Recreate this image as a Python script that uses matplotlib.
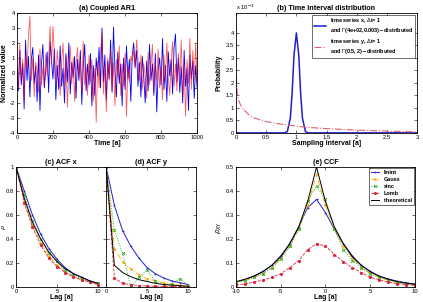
import numpy as np
import matplotlib.pyplot as plt

plt.rcParams['font.family'] = ['Liberation Sans', 'DejaVu Sans']
plt.rcParams['axes.unicode_minus'] = False
plt.rcParams['xtick.direction'] = 'in'
plt.rcParams['ytick.direction'] = 'in'
plt.rcParams['xtick.top'] = True
plt.rcParams['ytick.right'] = True
plt.rcParams['xtick.major.size'] = 2
plt.rcParams['ytick.major.size'] = 2
plt.rcParams['xtick.major.width'] = 0.4
plt.rcParams['ytick.major.width'] = 0.4
plt.rcParams['axes.linewidth'] = 0.6

# (a) coupled AR1 series, sampled every 8 time units
time_a = np.arange(0, 1001, 8)
ar_x = [0.3, -1.2, 1.5, -0.8, 0.6, -2.4, 2.2, -0.5, 1.1, -1.6,
        0.9, 1.7, -0.7, 0.4, -1.9, 1.2, -2.5, 0.6, 1.9, -1.0,
        0.2, 1.4, -1.3, 2.1, 0.8, -0.4, 1.6, -1.8, 0.5, -1.1,
        1.8, -0.9, 0.3, -2.0, 1.3, -0.6, 2.0, -1.4, 0.7, -0.3,
        1.1, -1.7, 0.9, -0.5, 1.5, -2.1, 0.4, 1.9, -1.2, 0.6,
        -0.8, 1.3, -2.2, 0.5, -1.5, 1.0, -0.2, 1.7, -1.0, 3.0,
        -0.6, 1.2, -1.8, 0.8, -0.4, 2.2, -1.3, 3.05, 0.2, -1.6,
        1.4, -0.7, 0.6, -2.2, 1.0, -1.1, 1.8, -0.4, 0.9, -1.9,
        1.2, 2.0, 0.4, 1.5, -0.9, 0.7, -1.6, 1.1, -0.3, -2.0,
        0.8, -1.2, 1.9, -0.5, 0.6, -1.5, 1.3, -2.6, 0.2, 1.0,
        -0.8, 2.3, -1.1, 0.5, -1.9, 1.4, -0.2, 0.9, -1.4, 1.7,
        2.6, -0.6, 1.0, -1.3, 0.4, -2.0, 1.5, -0.9, 0.3, -2.5,
        1.2, -0.4, 0.8, -1.7, 0.5, -1.0]
ar_y = [0.5, -1.0, 1.9, -0.4, 0.9, -1.8, 1.2, 0.2, 2.5, 3.8,
        -0.5, 1.0, -1.6, 0.7, 0.2, -1.3, 1.6, -0.8, 0.4, -0.9,
        1.3, -0.2, 0.9, 3.1, 0.6, 3.1, 1.2, -0.6, 1.5, 0.3,
        -1.5, 0.8, 2.0, -0.9, 1.1, -2.3, 0.5, 1.8, -0.7, 1.0,
        -1.9, 0.6, 1.7, -0.3, 0.9, -1.2, 2.1, -0.8, 0.4, -1.5,
        1.2, -0.6, 0.9, -1.9, 0.3, -3.3, 0.8, -1.0, 1.4, 2.7,
        -1.4, 0.5, -2.6, 1.0, -0.5, 1.6, -1.2, 0.7, -2.2, 0.9,
        -0.3, 1.8, -1.5, 0.6, -0.9, 1.3, -2.9, 0.4, -0.6, 1.1,
        0.8, 1.5, 0.3, 2.2, 0.9, -0.5, 1.2, -1.1, 0.6, -0.2,
        -1.7, 1.4, -0.8, 0.5, 1.9, -1.3, 0.7, -0.5, 1.6, -1.0,
        0.4, -1.8, 1.2, -0.6, 2.0, -0.3, -1.5, 0.8, 2.1, -0.9,
        0.6, -1.2, 1.3, -0.4, 2.2, -1.6, 0.5, -2.9, 0.9, -0.7,
        2.3, -1.1, 1.5, -0.5, 2.0, -0.8]

# (b) sampling interval distributions (x 10^-3)
dt_x = [0, 0.8, 0.85, 0.9, 0.93, 0.96, 1.0, 1.04, 1.07, 1.1, 1.15, 1.2, 3.0]
p_x = [0, 0, 0.05, 0.6, 1.6, 3.1, 4.0, 3.1, 1.6, 0.6, 0.05, 0, 0]
dt_y = [0.005, 0.02, 0.05, 0.1, 0.2, 0.3, 0.5, 0.75, 1.0, 1.25, 1.5, 2.0, 2.5, 3.0]
p_y = [2.25, 1.6, 1.25, 1.0, 0.75, 0.6, 0.45, 0.35, 0.27, 0.21, 0.17, 0.11, 0.07, 0.04]

# (c), (d) autocorrelation
lags = np.arange(0, 11)
acfx_linint = [1, 0.80, 0.60, 0.44, 0.32, 0.23, 0.16, 0.11, 0.08, 0.05, 0.03]
acfx_gauss = [1, 0.72, 0.52, 0.37, 0.26, 0.18, 0.13, 0.09, 0.06, 0.04, 0.02]
acfx_sinc = [1, 0.77, 0.55, 0.40, 0.28, 0.22, 0.13, 0.09, 0.07, 0.04, 0.03]
acfx_lomb = [1, 0.70, 0.50, 0.35, 0.24, 0.17, 0.12, 0.08, 0.06, 0.04, 0.02]
acfx_theo = [1, 0.74, 0.54, 0.40, 0.29, 0.21, 0.15, 0.11, 0.08, 0.05, 0.03]

acfy_linint = [1, 0.68, 0.47, 0.34, 0.24, 0.16, 0.11, 0.075, 0.05, 0.035, 0.02]
acfy_gauss = [1, 0.32, 0.21, 0.15, 0.10, 0.07, 0.05, 0.035, 0.025, 0.015, 0.01]
acfy_sinc = [1, 0.475, 0.28, 0.0, 0.08, 0.14, 0.05, 0.02, 0.02, 0.07, 0.01]
acfy_lomb = [1, 0.075, 0.03, 0.02, 0.01, 0.008, 0.005, 0.004, 0.003, 0.002, 0.0]
acfy_theo = [1, 0.18, 0.12, 0.085, 0.06, 0.045, 0.03, 0.02, 0.015, 0.01, 0.005]

# (e) cross-correlation
ccf_lags = np.arange(-10, 11)
ccf_linint = [0.02, 0.03, 0.045, 0.065, 0.09, 0.13, 0.18, 0.25, 0.33, 0.365,
              0.31, 0.24, 0.18, 0.13, 0.09, 0.065, 0.045, 0.033, 0.024, 0.017, 0.012]
ccf_gauss = [0.02, 0.028, 0.04, 0.055, 0.08, 0.12, 0.17, 0.24, 0.34, 0.47,
             0.34, 0.24, 0.17, 0.12, 0.08, 0.057, 0.04, 0.028, 0.02, 0.014, 0.01]
ccf_sinc = [0.02, 0.025, 0.04, 0.055, 0.08, 0.115, 0.17, 0.24, 0.36, 0.42,
            0.365, 0.24, 0.155, 0.11, 0.08, 0.055, 0.04, 0.03, 0.02, 0.014, 0.01]
ccf_lomb = [0.008, 0.012, 0.02, 0.028, 0.04, 0.055, 0.08, 0.11, 0.155, 0.18,
            0.17, 0.135, 0.105, 0.08, 0.06, 0.04, 0.03, 0.02, 0.014, 0.01, 0.006]
ccf_theo = [0.022, 0.032, 0.045, 0.063, 0.09, 0.125, 0.18, 0.25, 0.355, 0.5,
            0.355, 0.25, 0.18, 0.125, 0.09, 0.063, 0.045, 0.032, 0.022, 0.016, 0.011]

BLUE = '#1f1fd0'
ORANGE = '#ffa500'
GREEN = '#22b022'
RED = '#e0203a'

TFS = 5.2
LFS = 5
KFS = 4.2

fig = plt.figure(figsize=(4.23, 3.02), dpi=100)

# (a)
ax = fig.add_axes([0.040, 0.560, 0.426, 0.397])
ax.plot(time_a, ar_x, color='#0000ff', lw=0.6)
ax.plot(time_a, ar_y, color='#ff0000', lw=0.6, alpha=0.65)
ax.set_xlim(0, 1000)
ax.set_ylim(-4, 4)
ax.set_xticks(range(0, 1001, 200))
ax.set_yticks(range(-4, 5))
ax.set_title('(a) Coupled AR1', fontsize=TFS, fontweight='bold', pad=2)
ax.set_xlabel('Time [a]', fontsize=LFS, fontweight='bold', labelpad=0)
ax.set_ylabel('Normalized value', fontsize=LFS, fontweight='bold', labelpad=1)
ax.tick_params(labelsize=KFS, pad=1.5)

# (b)
ax = fig.add_axes([0.558, 0.560, 0.428, 0.397])
ax.plot(dt_x, p_x, color=BLUE, lw=1.1,
        label='time series x, $\\Delta$t= 1\nand $\\Gamma$(4e+02,0.003)$-$distributed')
ax.plot(dt_y, p_y, color='#e06070', lw=0.8, ls='-.',
        label='time series y, $\\Delta$t= 1\nand $\\Gamma$(0.5, 2)$-$distributed')
ax.set_xlim(0, 3)
ax.set_ylim(0, 4.8)
ax.set_xticks(np.arange(0, 3.01, 0.5))
ax.set_xticklabels(['0', '0.5', '1', '1.5', '2', '2.5', '3'])
ax.set_yticks(np.arange(0, 4.01, 0.5))
ax.set_yticklabels(['0', '0.5', '1', '1.5', '2', '2.5', '3', '3.5', '4'])
ax.set_title('(b) Time interval distribution', fontsize=TFS, fontweight='bold', pad=2)
ax.set_xlabel('Sampling interval [a]', fontsize=LFS, fontweight='bold', labelpad=0)
ax.set_ylabel('Probability', fontsize=LFS, fontweight='bold', labelpad=2)
ax.tick_params(labelsize=KFS, pad=1.5)
ax.text(0, 1.01, 'x 10$^{-3}$', transform=ax.transAxes, fontsize=KFS, va='bottom')
leg = ax.legend(loc='upper right', fontsize=4, frameon=True, fancybox=False,
                edgecolor='black', handlelength=2.2, borderpad=0.3, labelspacing=0.3,
                borderaxespad=0.3)
leg.get_frame().set_linewidth(0.5)
for t in leg.get_texts():
    t.set_fontweight('bold')


def acf_panel(ax, lin, gau, sin, lom, theo):
    ax.plot(lags, lin, color=BLUE, lw=0.7, marker='+', ms=2, mew=0.5)
    ax.plot(lags, gau, color=ORANGE, lw=0.6, ls='-.', marker='*', ms=2, mew=0.4)
    ax.plot(lags, sin, color=GREEN, lw=0.7, ls=':', marker='x', ms=2, mew=0.6)
    ax.plot(lags, lom, color=RED, lw=0.6, ls='--', marker='.', ms=2.5)
    ax.plot(lags, theo, color='black', lw=0.7)
    ax.set_xlim(0, 11)
    ax.set_ylim(0, 1)
    ax.set_xticks([0, 5, 10])
    ax.set_xlabel('Lag [a]', fontsize=LFS, fontweight='bold', labelpad=0)
    ax.tick_params(labelsize=KFS, pad=1.5)


# (c)
ax = fig.add_axes([0.038, 0.050, 0.213, 0.397])
acf_panel(ax, acfx_linint, acfx_gauss, acfx_sinc, acfx_lomb, acfx_theo)
ax.set_yticks(np.arange(0, 1.01, 0.2))
ax.set_yticklabels(['0', '0.2', '0.4', '0.6', '0.8', '1'])
ax.set_ylabel('$\\rho$', fontsize=4.5)
ax.yaxis.set_label_coords(-0.085, 0.5)
ax.set_title('(c) ACF x', fontsize=TFS, fontweight='bold', pad=2)

# (d)
ax = fig.add_axes([0.251, 0.050, 0.213, 0.397])
acf_panel(ax, acfy_linint, acfy_gauss, acfy_sinc, acfy_lomb, acfy_theo)
ax.set_yticks(np.arange(0, 1.01, 0.2))
ax.set_yticklabels([])
ax.set_title('(d) ACF y', fontsize=TFS, fontweight='bold', pad=2)

# (e)
ax = fig.add_axes([0.558, 0.050, 0.423, 0.397])
ax.plot(ccf_lags, ccf_linint, color=BLUE, lw=0.7, marker='+', ms=2, mew=0.5, label='linint')
ax.plot(ccf_lags, ccf_gauss, color=ORANGE, lw=0.6, ls='-.', marker='*', ms=2, mew=0.4, label='Gauss')
ax.plot(ccf_lags, ccf_sinc, color=GREEN, lw=0.7, ls=':', marker='x', ms=2, mew=0.6, label='sinc')
ax.plot(ccf_lags, ccf_lomb, color=RED, lw=0.6, ls='--', marker='.', ms=2.5, label='Lomb')
ax.plot(ccf_lags, ccf_theo, color='black', lw=0.7, label='theoretical')
ax.set_xlim(-10, 10)
ax.set_ylim(0, 0.5)
ax.set_xticks([-10, -5, 0, 5, 10])
ax.set_yticks(np.arange(0, 0.51, 0.1))
ax.set_yticklabels(['0', '0.1', '0.2', '0.3', '0.4', '0.5'])
ax.set_title('(e) CCF', fontsize=TFS, fontweight='bold', pad=2)
ax.set_xlabel('Lag [a]', fontsize=LFS, fontweight='bold', labelpad=0)
ax.set_ylabel('$\\rho_{XY}$', fontsize=LFS, labelpad=1)
ax.tick_params(labelsize=KFS, pad=1.5)
leg = ax.legend(loc='upper right', fontsize=4, frameon=True, fancybox=False,
                edgecolor='black', handlelength=1.6, borderpad=0.35, labelspacing=0.35,
                borderaxespad=0.2)
leg.get_frame().set_linewidth(0.5)
for t in leg.get_texts():
    t.set_fontweight('bold')

fig.savefig('out.png', dpi=100)
